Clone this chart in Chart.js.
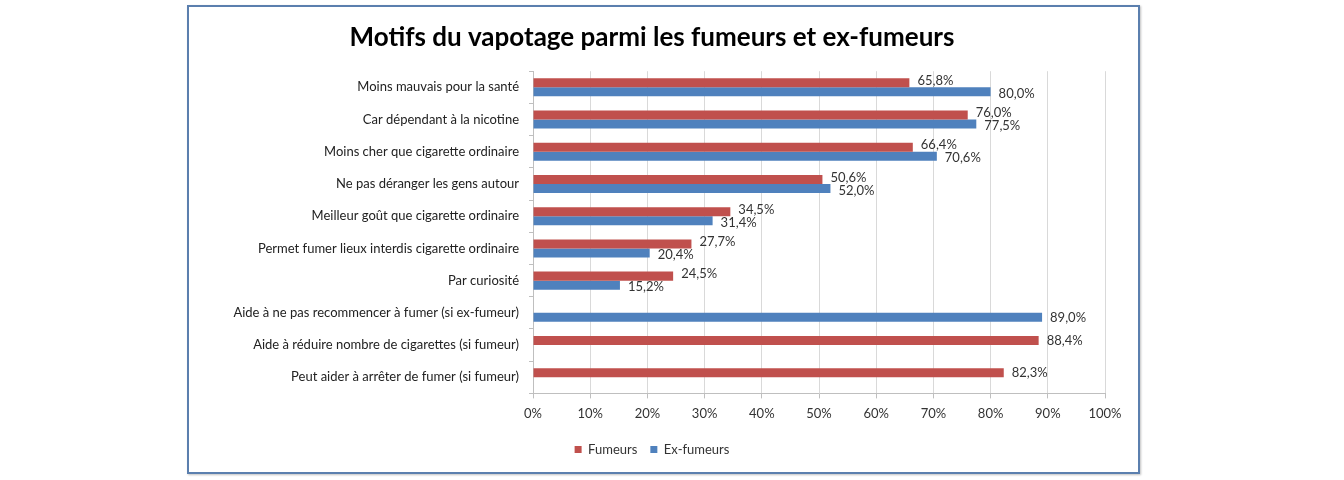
<!DOCTYPE html>
<html>
<head>
<meta charset="utf-8">
<script src="https://cdn.jsdelivr.net/npm/chart.js@4"></script>
<style>
  body { margin: 0; background: #fff; }
  #frame {
    position: absolute; left: 187px; top: 5px; width: 953px; height: 469px;
    box-sizing: border-box; border: 2px solid #5b7fae; background: #fff;
    box-shadow: 1px 1px 2px rgba(0,0,0,0.25);
  }
  #frame canvas { display: block; }
</style>
</head>
<body>
<div id="frame"><canvas id="vapeChart" width="949" height="465"></canvas></div>
<script>
// Chart values
const motifs = [
    'Moins mauvais pour la santé',
    'Car dépendant à la nicotine',
    'Moins cher que cigarette ordinaire',
    'Ne pas déranger les gens autour',
    'Meilleur goût que cigarette ordinaire',
    'Permet fumer lieux interdis cigarette ordinaire',
    'Par curiosité',
    'Aide à ne pas recommencer à fumer (si ex-fumeur)',
    'Aide à réduire nombre de cigarettes (si fumeur)',
    'Peut aider à arrêter de fumer (si fumeur)'
];
const fumeurs = [65.8, 76.0, 66.4, 50.6, 34.5, 27.7, 24.5, null, 88.4, 82.3];
const exFumeurs = [80.0, 77.5, 70.6, 52.0, 31.4, 20.4, 15.2, 89.0, null, null];
const xTicks = [0, 10, 20, 30, 40, 50, 60, 70, 80, 90, 100];

const fontFamily = 'Lato, sans-serif';

// Draw value labels at the end of each bar ("65,8%")
const valueLabels = {
    id: 'valueLabels',
    afterDatasetsDraw(chart) {
        const ctx = chart.ctx;
        ctx.save();
        ctx.font = '13px ' + fontFamily;
        ctx.fillStyle = '#333';
        ctx.textBaseline = 'middle';
        ctx.textAlign = 'left';
        chart.data.datasets.forEach((ds, i) => {
            const meta = chart.getDatasetMeta(i);
            const other = chart.data.datasets[1 - i].data;
            meta.data.forEach((bar, j) => {
                const v = ds.data[j];
                if (v === null) return;
                const txt = v.toFixed(1).replace('.', ',') + '%';
                // spread the two labels of a row apart a little
                let dy = 0;
                if (other[j] !== null) dy = i === 0 ? -2 : 2;
                ctx.fillText(txt, bar.x + 8, bar.y + dy);
            });
        });
        ctx.restore();
    }
};

const ctx = document.getElementById('vapeChart').getContext('2d');
const vapeChart = new Chart(ctx, {
    type: 'bar',
    data: {
        labels: motifs,
        datasets: [
            {
                label: 'Fumeurs',
                data: fumeurs,
                backgroundColor: '#c0504d',
                categoryPercentage: 0.56,
                barPercentage: 1.0
            },
            {
                label: 'Ex-fumeurs',
                data: exFumeurs,
                backgroundColor: '#4f81bd',
                categoryPercentage: 0.56,
                barPercentage: 1.0
            }
        ]
    },
    options: {
        indexAxis: 'y',
        responsive: false,
        animation: false,
        layout: { padding: { left: 10, right: 33, top: 0, bottom: 6 } },
        plugins: {
            title: {
                display: true,
                text: 'Motifs du vapotage parmi les fumeurs et ex-fumeurs',
                color: '#000',
                font: { family: 'Lato, sans-serif', size: 26, weight: 'bold' },
                padding: { top: 15, bottom: 18 }
            },
            legend: {
                position: 'bottom',
                labels: {
                    boxWidth: 7,
                    boxHeight: 7,
                    padding: 13,
                    color: '#333',
                    font: { family: fontFamily, size: 13 }
                }
            },
            tooltip: { enabled: false }
        },
        scales: {
            x: {
                min: 0,
                max: 100,
                afterBuildTicks: (scale) => { scale.ticks = xTicks.map(v => ({ value: v })); },
                ticks: {
                    callback: (v) => v + '%',
                    color: '#333',
                    font: { family: fontFamily, size: 13 },
                    padding: 8
                },
                grid: { color: '#d9d9d9', tickLength: 5, tickColor: '#bfbfbf' },
                border: { color: '#bfbfbf' }
            },
            y: {
                afterFit: (scale) => { scale.width = 334; },
                ticks: {
                    color: '#222',
                    font: { family: fontFamily, size: 13 },
                    padding: 10,
                    autoSkip: false
                },
                grid: { offset: true, drawOnChartArea: false, tickLength: 4, tickColor: '#bfbfbf' },
                border: { color: '#bfbfbf' }
            }
        }
    },
    plugins: [valueLabels]
});
</script>
</body>
</html>
